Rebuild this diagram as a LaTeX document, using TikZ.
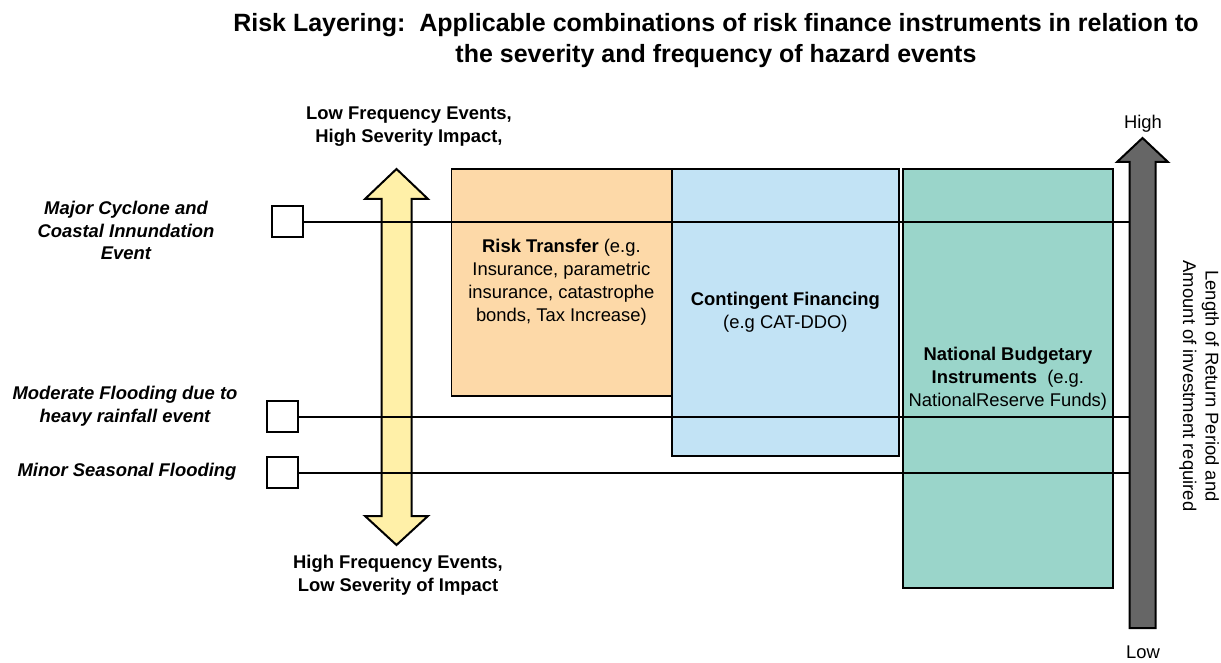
\documentclass[tikz,border=0pt]{standalone}
\usepackage{fontspec}
\setmainfont{Liberation Sans}
\usetikzlibrary{positioning}
\definecolor{riskorange}{HTML}{FDD9A8}
\definecolor{contblue}{HTML}{C2E3F5}
\definecolor{budteal}{HTML}{9AD5CA}
\definecolor{freqyellow}{HTML}{FFF0A8}
\definecolor{axisgray}{HTML}{666666}
\tikzset{
	layer/.style={draw=black, line width=0.9pt, anchor=north west, align=center, inner sep=0pt, font=\fontsize{9.2}{11.5}\selectfont},
	evbox/.style={draw=black, fill=white, line width=1pt, minimum size=15.5pt, inner sep=0pt},
	evlabel/.style={align=center, font=\fontsize{9.2}{11.25}\selectfont\bfseries\itshape},
	sidelabel/.style={align=center, font=\fontsize{9.2}{11.5}\selectfont\bfseries},
	plainlabel/.style={align=center, font=\fontsize{9.2}{11.25}\selectfont},
	eventline/.style={line width=1pt}
}

\begin{document}
\begin{tikzpicture}[x=0.5pt, y=-0.5pt]
			%%%%% START %%%%%
			\useasboundingbox (0, 0) rectangle (1221, 663);
			
			\node[font=\fontsize{12.5}{15.5}\selectfont\bfseries, align=center] (title) at (716, 40.5)
				{Risk Layering:~~Applicable combinations of risk finance instruments in relation to\\ the severity and frequency of hazard events};
			
			% frequency arrow
			\draw[fill=freqyellow, line width=1pt] (381.5, 199) -- (365, 199) -- (396.5, 169) -- (428, 199) -- (411.5, 199)
				-- (411.5, 516) -- (428, 516) -- (396.5, 545) -- (365, 516) -- (381.5, 516) -- cycle;
			\node[sidelabel] (lowfreq) at (409, 127) {Low Frequency Events,\\ High Severity Impact,};
			\node[sidelabel] (highfreq) at (398, 575.5) {High Frequency Events,\\ Low Severity of Impact};
			
			% instrument layers
			\node[layer, fill=riskorange, minimum width=110pt, minimum height=113.5pt] (transfer) at (450.5, 168)
				{\textbf{Risk Transfer} (e.g.\\ Insurance, parametric\\ insurance, catastrophe\\ bonds, Tax Increase)};
			\node[layer, fill=contblue, minimum width=113.5pt, minimum height=143.5pt] (contingent) at (671, 168)
				{\textbf{Contingent Financing}\\ (e.g CAT-DDO)};
			\node[layer, fill=budteal, minimum width=105pt, minimum height=209.5pt] (budget) at (902, 168)
				{\textbf{National Budgetary}\\ \textbf{Instruments}~~(e.g.\\ NationalReserve Funds)};
			
			% return period arrow
			\draw[fill=axisgray, line width=1pt] (1129.5, 628) -- (1129.5, 162) -- (1117, 162) -- (1142.5, 138)
				-- (1168, 162) -- (1155.5, 162) -- (1155.5, 628) -- cycle;
			\coordinate (shaft) at (1129.5, 0);
			\node[plainlabel] (high) at (1143, 124) {High};
			\node[plainlabel] (low) at (1143, 652) {Low};
			\node[plainlabel, rotate=-90] (period) at (1199, 386)
				{Length of Return Period and\\ Amount of investment required};
			
			% hazard events
			\node[evbox] (major) at (287, 222) {};
			\node[evbox] (moderate) at (282, 416.5) {};
			\node[evbox] (minor) at (282, 472.5) {};
			\draw[eventline] (major.east) -- (major.east -| shaft);
			\draw[eventline] (moderate.east) -- (moderate.east -| shaft);
			\draw[eventline] (minor.east) -- (minor.east -| shaft);
			
			\node[evlabel] (majorlabel) at (126, 230.5) {Major Cyclone and\\ Coastal Innundation\\ Event};
			\node[evlabel] (moderatelabel) at (125, 406) {Moderate Flooding due to\\ heavy rainfall event};
			\node[evlabel] (minorlabel) at (127, 472) {Minor Seasonal Flooding};
			%%%%% END %%%%%
\end{tikzpicture}
\end{document}
